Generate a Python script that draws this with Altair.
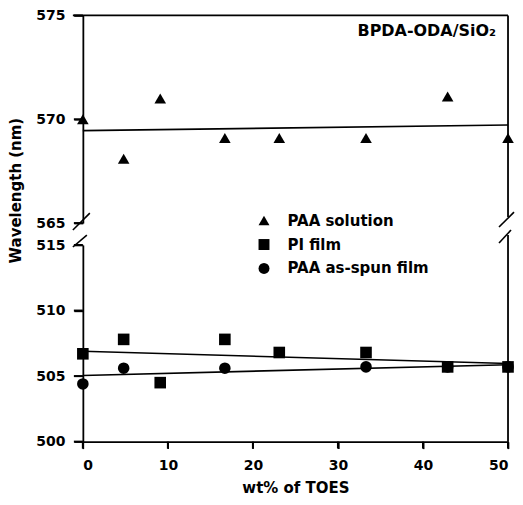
import altair as alt
import pandas as pd

# ---- data ----
toes_wt = [0, 4.8, 9.1, 16.7, 23.1, 33.3, 42.9, 50]
paa_solution = [570.0, 568.1, 571.0, 569.1, 569.1, 569.1, 571.1, 569.1]
pi_film = [506.7, 507.8, 504.5, 507.8, 506.8, 506.8, 505.7, 505.7]
spun_wt = [0, 4.8, 16.7, 33.3, 42.9, 50]
paa_spun = [504.4, 505.6, 505.6, 505.7, 505.7, 505.7]

upper_ticks = [565, 570, 575]
lower_ticks = [500, 505, 510, 515]
x_ticks = [0, 10, 20, 30, 40, 50]

series_names = ["PAA solution", "PI film", "PAA as-spun film"]
series_shapes = ["triangle-up", "square", "circle"]

upper_df = pd.DataFrame({"x": toes_wt, "y": paa_solution, "s": "PAA solution"})
spun_df = pd.DataFrame({"x": spun_wt, "y": paa_spun, "s": "PAA as-spun film"})
pi_df = pd.DataFrame({"x": toes_wt, "y": pi_film, "s": "PI film"})
# drawing order: the circle at 42.9 sits under the square, the other circles above the squares
lower_df = pd.concat([spun_df[spun_df.x == 42.9], pi_df, spun_df[spun_df.x != 42.9]], ignore_index=True)

FONT = "DejaVu Sans"
W = 426
HU = 208
HL = 197

shape_enc = alt.Shape("s:N", scale=alt.Scale(domain=series_names, range=series_shapes),
                      legend=alt.Legend(title=None, orient="none", legendX=174, legendY=198,
                                        labelFont=FONT, labelFontSize=15, labelFontWeight="bold",
                                        labelColor="black", symbolSize=120, symbolFillColor="black",
                                        symbolStrokeColor="black", rowPadding=7, labelOffset=16,
                                        symbolOffset=0))

xscale = alt.Scale(domain=[0, 50])
frame = pd.DataFrame({"k": [0]})

def frame_rule(**enc):
    return alt.Chart(frame).mark_rule(color="black", strokeWidth=1.8).encode(**enc)

def break_marks(x1, x2, y1, y2):
    df = pd.DataFrame({"x1": x1, "x2": x2, "y1": y1, "y2": y2})
    return alt.Chart(df).mark_rule(color="black", strokeWidth=1.6).encode(
        x=alt.X("x1:Q", scale=None), x2="x2:Q",
        y=alt.Y("y1:Q", scale=None), y2="y2:Q")

def y_tick_marks(values, scale):
    return alt.Chart(pd.DataFrame({"v": values})).mark_tick(
        color="black", opacity=1, thickness=2, size=9, orient="horizontal").encode(
        y=alt.Y("v:Q", scale=scale), x=alt.value(-4.5))

# ---------- upper panel ----------
yu_scale = alt.Scale(domain=[565, 575])
base_u = alt.Chart(upper_df)
pts_u = base_u.mark_point(filled=True, color="black", size=135, opacity=1).encode(
    x=alt.X("x:Q", scale=xscale, axis=None),
    y=alt.Y("y:Q", scale=yu_scale,
            axis=alt.Axis(values=upper_ticks, title="Wavelength (nm)", labelFont=FONT,
                          labelFontSize=14, labelFontWeight="bold", labelColor="black",
                          domainColor="black", domainWidth=1.8, tickColor="black", tickWidth=1.6,
                          tickSize=9, tickOpacity=1, grid=False, labelPadding=9,
                          titleFont=FONT, titleFontSize=15, titleFontWeight="bold", titleColor="black",
                          titleY=175, titlePadding=12)),
    shape=shape_enc,
)
reg_u = base_u.transform_regression("x", "y", extent=[0, 50]).mark_line(color="black", strokeWidth=1.6).encode(
    x=alt.X("x:Q", scale=xscale),
    y=alt.Y("y:Q", scale=yu_scale),
)
ticks_u = y_tick_marks(upper_ticks, yu_scale)
top_u = frame_rule(x=alt.value(-10), x2=alt.value(W), y=alt.value(0))
right_u = frame_rule(x=alt.value(W), y=alt.value(0), y2=alt.value(HU - 6))
label_u = alt.Chart(pd.DataFrame({"t": ["BPDA-ODA/SiO₂"]})).mark_text(
    font=FONT, fontSize=16, fontWeight="bold", color="black", align="right", baseline="middle"
).encode(text="t:N", x=alt.value(414), y=alt.value(16))
breaks_u = break_marks([-10, 417], [7, 432], [215, 212], [198, 197])

upper = alt.layer(pts_u, reg_u, ticks_u, top_u, right_u, label_u, breaks_u).properties(width=W, height=HU)

# ---------- lower panel ----------
yl_scale = alt.Scale(domain=[500, 515])
xl = alt.X("x:Q", scale=xscale,
           axis=alt.Axis(values=x_ticks, title="wt% of TOES", labelFont=FONT,
                         labelFontSize=14, labelFontWeight="bold", labelColor="black",
                         titleFont=FONT, titleFontSize=15, titleFontWeight="bold", titleColor="black",
                         domainColor="black", domainWidth=1.8, tickColor="black", tickWidth=1.6,
                         tickSize=7, tickOpacity=1, grid=False, labelPadding=10, titlePadding=8))
base_l = alt.Chart(lower_df)
pts_l = base_l.mark_point(filled=True, color="black", size=135, opacity=1).encode(
    x=xl,
    y=alt.Y("y:Q", scale=yl_scale,
            axis=alt.Axis(values=lower_ticks, title=None, labelFont=FONT,
                          labelFontSize=14, labelFontWeight="bold", labelColor="black",
                          domainColor="black", domainWidth=1.8, tickColor="black", tickWidth=1.6,
                          tickSize=9, tickOpacity=1, grid=False, labelPadding=9)),
    shape=shape_enc,
)
reg_l = base_l.transform_regression("x", "y", groupby=["s"], extent=[0, 50]).mark_line(
    color="black", strokeWidth=1.6).encode(
    x=alt.X("x:Q", scale=xscale),
    y=alt.Y("y:Q", scale=yl_scale),
    detail="s:N",
)
ticks_l = y_tick_marks(lower_ticks, yl_scale)
ticks_x = alt.Chart(pd.DataFrame({"v": x_ticks})).mark_tick(
    color="black", opacity=1, thickness=2, size=7, orient="vertical").encode(
    x=alt.X("v:Q", scale=xscale), y=alt.value(HL + 3.5))
right_l = frame_rule(x=alt.value(W), y=alt.value(-10), y2=alt.value(HL))
breaks_l = break_marks([-10, 417], [4, 429], [2, -2], [-10, -15])

lower = alt.layer(pts_l, reg_l, ticks_l, ticks_x, right_l, breaks_l).properties(width=W, height=HL)

chart = alt.vconcat(upper, lower, spacing=22, bounds="flush").resolve_scale(
    y="independent", shape="shared"
).properties(padding={"top": 0, "left": 0, "right": 0, "bottom": 0}).configure_view(stroke=None)

chart.save("out.html", embed_options={"renderer": "svg", "actions": False})
